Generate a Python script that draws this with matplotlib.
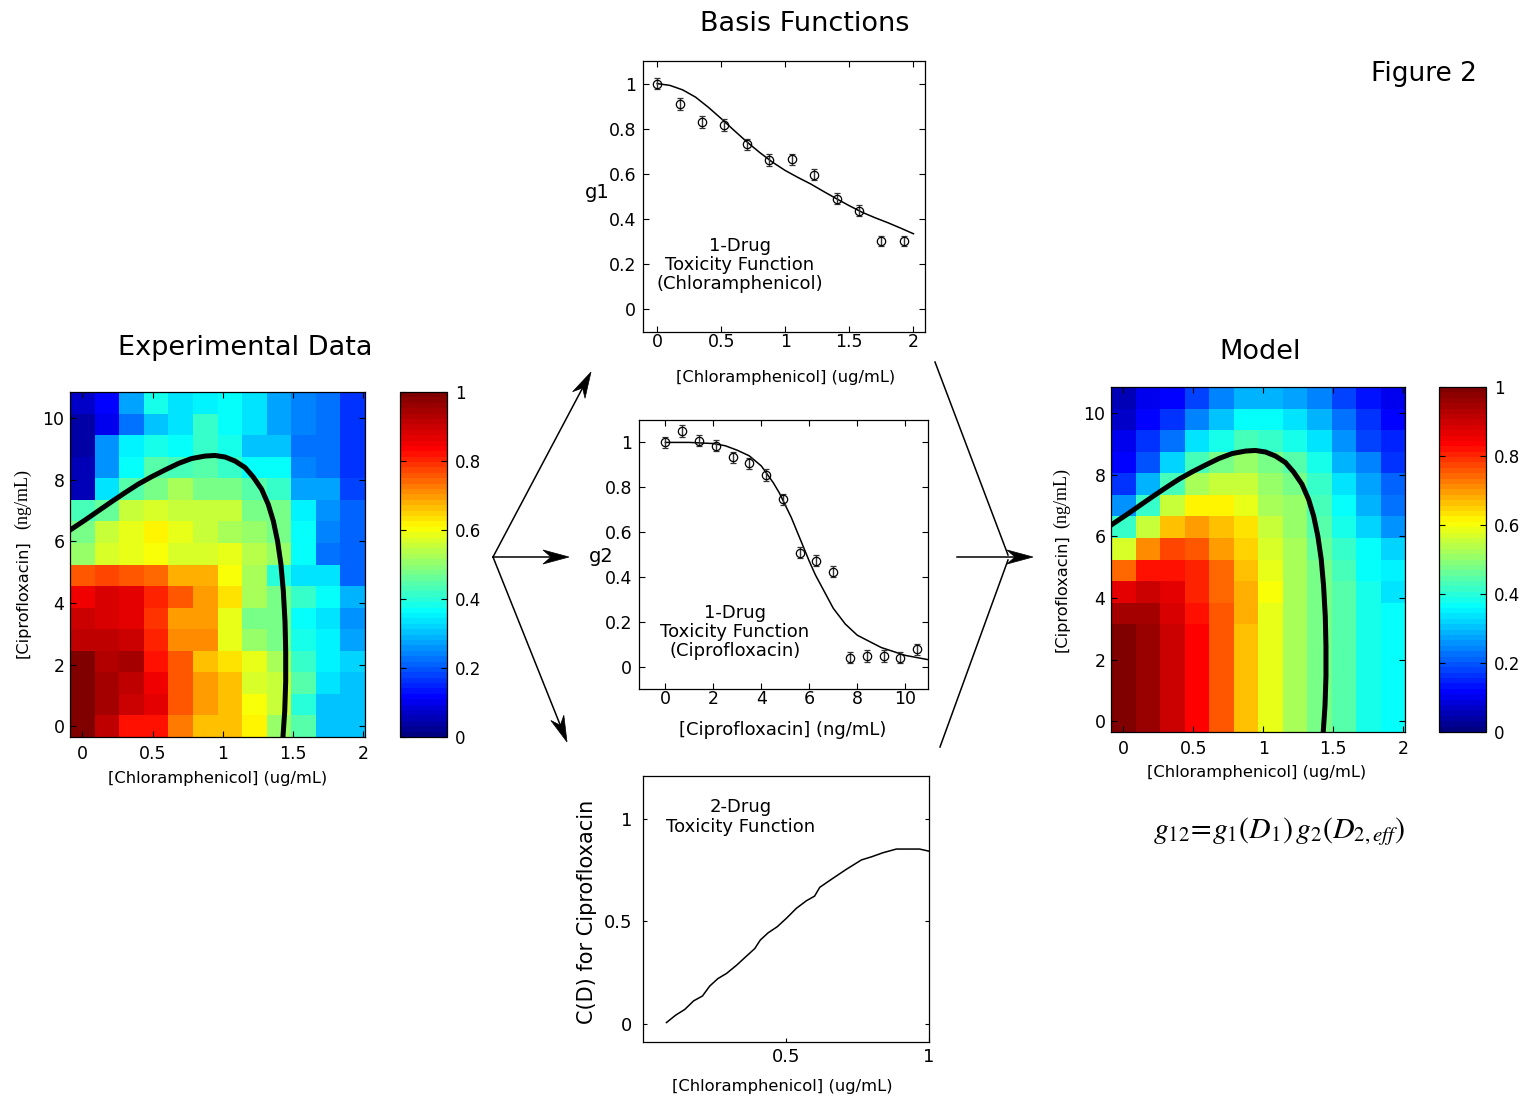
import matplotlib
matplotlib.use("Agg")
import matplotlib.pyplot as plt
import numpy as np
from matplotlib.colors import LinearSegmentedColormap
from matplotlib.patches import Polygon
from matplotlib.lines import Line2D

# grid of the heat maps
chloram = [0, 0.175, 0.35, 0.525, 0.7, 0.875, 1.05, 1.225, 1.4, 1.575, 1.75, 1.925]
cipro = [0, 0.7, 1.4, 2.1, 2.8, 3.5, 4.2, 4.9, 5.6, 6.3, 7.0, 7.7, 8.4, 9.1, 9.8, 10.5]

# measured growth, rows from cipro=0 upward
exp_grid = [
    [1.00, 0.91, 0.82, 0.82, 0.72, 0.66, 0.66, 0.61, 0.50, 0.44, 0.31, 0.31],
    [1.00, 0.94, 0.90, 0.86, 0.75, 0.69, 0.67, 0.60, 0.56, 0.40, 0.31, 0.31],
    [1.00, 0.94, 0.92, 0.85, 0.75, 0.69, 0.67, 0.57, 0.56, 0.45, 0.34, 0.31],
    [1.00, 0.93, 0.95, 0.82, 0.76, 0.67, 0.64, 0.58, 0.53, 0.41, 0.35, 0.32],
    [0.92, 0.91, 0.90, 0.81, 0.71, 0.71, 0.58, 0.51, 0.48, 0.39, 0.35, 0.28],
    [0.90, 0.89, 0.86, 0.79, 0.69, 0.69, 0.58, 0.48, 0.48, 0.37, 0.34, 0.25],
    [0.85, 0.89, 0.86, 0.81, 0.75, 0.70, 0.63, 0.52, 0.48, 0.41, 0.37, 0.29],
    [0.75, 0.78, 0.75, 0.74, 0.68, 0.68, 0.60, 0.52, 0.40, 0.34, 0.34, 0.21],
    [0.51, 0.57, 0.58, 0.60, 0.57, 0.57, 0.58, 0.54, 0.50, 0.37, 0.23, 0.21],
    [0.48, 0.55, 0.58, 0.62, 0.58, 0.55, 0.53, 0.50, 0.48, 0.37, 0.24, 0.21],
    [0.43, 0.46, 0.56, 0.57, 0.56, 0.55, 0.55, 0.48, 0.48, 0.35, 0.25, 0.21],
    [0.05, 0.34, 0.44, 0.48, 0.52, 0.47, 0.48, 0.45, 0.41, 0.28, 0.27, 0.18],
    [0.05, 0.25, 0.37, 0.44, 0.43, 0.44, 0.41, 0.37, 0.37, 0.24, 0.23, 0.16],
    [0.04, 0.25, 0.35, 0.39, 0.37, 0.42, 0.39, 0.31, 0.31, 0.23, 0.23, 0.17],
    [0.04, 0.10, 0.22, 0.30, 0.34, 0.42, 0.37, 0.34, 0.27, 0.24, 0.22, 0.17],
    [0.07, 0.12, 0.27, 0.38, 0.34, 0.35, 0.37, 0.33, 0.27, 0.24, 0.22, 0.16],
]

# model growth, rows from cipro=0 upward
model_grid = [
    [1.00, 0.96, 0.90, 0.83, 0.75, 0.67, 0.59, 0.53, 0.48, 0.44, 0.39, 0.36],
    [1.00, 0.96, 0.90, 0.83, 0.75, 0.67, 0.59, 0.53, 0.48, 0.44, 0.39, 0.36],
    [1.00, 0.96, 0.90, 0.83, 0.75, 0.67, 0.59, 0.53, 0.48, 0.44, 0.39, 0.36],
    [1.00, 0.96, 0.90, 0.83, 0.75, 0.67, 0.59, 0.53, 0.48, 0.44, 0.39, 0.36],
    [0.99, 0.96, 0.90, 0.83, 0.75, 0.67, 0.59, 0.53, 0.48, 0.44, 0.39, 0.36],
    [0.94, 0.94, 0.89, 0.82, 0.75, 0.68, 0.59, 0.53, 0.48, 0.44, 0.39, 0.36],
    [0.86, 0.90, 0.87, 0.81, 0.74, 0.68, 0.60, 0.53, 0.48, 0.44, 0.39, 0.34],
    [0.74, 0.82, 0.82, 0.80, 0.74, 0.66, 0.58, 0.52, 0.48, 0.43, 0.37, 0.35],
    [0.57, 0.71, 0.77, 0.75, 0.70, 0.65, 0.57, 0.52, 0.46, 0.41, 0.36, 0.32],
    [0.41, 0.56, 0.67, 0.70, 0.67, 0.63, 0.56, 0.51, 0.45, 0.39, 0.32, 0.25],
    [0.25, 0.41, 0.55, 0.62, 0.62, 0.58, 0.53, 0.50, 0.43, 0.36, 0.29, 0.23],
    [0.16, 0.29, 0.43, 0.53, 0.56, 0.55, 0.51, 0.48, 0.41, 0.34, 0.27, 0.21],
    [0.12, 0.20, 0.32, 0.43, 0.48, 0.50, 0.48, 0.44, 0.39, 0.29, 0.24, 0.17],
    [0.10, 0.16, 0.23, 0.34, 0.39, 0.43, 0.41, 0.39, 0.34, 0.25, 0.18, 0.15],
    [0.07, 0.12, 0.17, 0.24, 0.31, 0.37, 0.36, 0.34, 0.29, 0.23, 0.16, 0.12],
    [0.06, 0.10, 0.12, 0.18, 0.24, 0.29, 0.29, 0.28, 0.24, 0.18, 0.14, 0.10],
]

# 50% contour drawn on both heat maps
contour_x = [-0.095, -0.08, 0.019, 0.114, 0.209, 0.304, 0.399, 0.494, 0.589, 0.684,
             0.778, 0.873, 0.944, 1.016, 1.087, 1.158, 1.217, 1.277, 1.324, 1.36,
             1.39, 1.414, 1.431, 1.443, 1.448, 1.448, 1.441, 1.428]
contour_y = [6.34, 6.39, 6.69, 6.99, 7.29, 7.58, 7.86, 8.10, 8.32, 8.53,
             8.69, 8.77, 8.79, 8.74, 8.61, 8.40, 8.09, 7.69, 7.20, 6.66,
             6.01, 5.26, 4.39, 3.41, 2.44, 1.46, 0.49, -0.38]

# g1: chloramphenicol alone
g1_y = [1.0, 0.909, 0.83, 0.816, 0.731, 0.662, 0.665, 0.596, 0.49, 0.437, 0.304, 0.304]
g1_err = [0.025, 0.025, 0.025, 0.025, 0.025, 0.025, 0.025, 0.025, 0.025, 0.025, 0.022, 0.022]
g1_fit_x = [0, 0.1, 0.2, 0.3, 0.4, 0.5, 0.6, 0.7, 0.8, 0.9, 1.0,
            1.1, 1.2, 1.3, 1.4, 1.5, 1.6, 1.7, 1.8, 1.9, 2.0]
g1_fit_y = [1.0, 0.992, 0.972, 0.94, 0.895, 0.845, 0.793, 0.742, 0.695, 0.652, 0.615,
            0.584, 0.555, 0.522, 0.49, 0.459, 0.43, 0.406, 0.384, 0.36, 0.335]

# g2: ciprofloxacin alone
g2_y = [1.0, 1.051, 1.007, 0.985, 0.933, 0.907, 0.855, 0.746, 0.508, 0.472,
        0.424, 0.04, 0.047, 0.047, 0.04, 0.077]
g2_err = [0.025, 0.025, 0.025, 0.025, 0.025, 0.025, 0.025, 0.025, 0.025, 0.025,
          0.025, 0.025, 0.025, 0.025, 0.025, 0.025]
g2_fit_x = [0, 1, 2, 2.5, 3, 3.5, 4, 4.5, 4.75, 5, 5.25, 5.5, 5.75, 6, 6.25, 6.5,
            7, 7.5, 8, 9, 10, 11]
g2_fit_y = [1.0, 1.0, 0.995, 0.985, 0.965, 0.94, 0.895, 0.82, 0.775, 0.72, 0.665,
            0.60, 0.535, 0.47, 0.41, 0.36, 0.26, 0.19, 0.14, 0.085, 0.05, 0.03]

# C(D): two drug interaction
cd_x = [0.082, 0.114, 0.146, 0.177, 0.208, 0.233, 0.262, 0.292, 0.327, 0.362, 0.391,
        0.41, 0.437, 0.469, 0.501, 0.536, 0.571, 0.60, 0.618, 0.664, 0.711, 0.764,
        0.799, 0.839, 0.886, 0.967, 1.008]
cd_y = [0.005, 0.041, 0.069, 0.111, 0.135, 0.183, 0.22, 0.245, 0.285, 0.33, 0.367,
        0.408, 0.443, 0.473, 0.514, 0.563, 0.60, 0.623, 0.666, 0.71, 0.754, 0.80,
        0.815, 0.835, 0.853, 0.853, 0.84]

W, H = 1524, 1099
fig = plt.figure(figsize=(W / 100, H / 100), dpi=100)

jet = LinearSegmentedColormap.from_list(
    "mjet", [(0, (0, 0, 0.5)), (0.11, (0, 0, 1)), (0.36, (0, 1, 1)),
             (0.61, (1, 1, 0)), (0.84, (1, 0, 0)), (1.0, (0.5, 0, 0))], N=64)


def box(l, t, r, b):
    return fig.add_axes([l / W, 1 - b / H, (r - l) / W, (b - t) / H])


def put(px, py, s, **kw):
    fig.text(px / W, 1 - py / H, s, ha="center", va="center", **kw)


def style(ax, size=12):
    ax.tick_params(direction="in", top=True, right=True, length=4, width=0.8,
                   labelsize=size)
    for sp in ax.spines.values():
        sp.set_linewidth(0.9)


def arrow(x0, y0, x1, y1, head=True):
    p0 = np.array([x0, y0], float)
    p1 = np.array([x1, y1], float)
    u = (p1 - p0) / np.hypot(*(p1 - p0))
    n = np.array([-u[1], u[0]])
    end = p1 - u * 18 if head else p1
    fig.add_artist(Line2D([end[0] / W, x0 / W], [1 - end[1] / H, 1 - y0 / H],
                          transform=fig.transFigure, color="k", lw=1.1))
    if head:
        pts = [p1, p1 - u * 26 + n * 7, p1 - u * 18, p1 - u * 26 - n * 7]
        pts = [(p[0] / W, 1 - p[1] / H) for p in pts]
        fig.add_artist(Polygon(pts, closed=True, transform=fig.transFigure,
                               fc="k", ec="k", lw=0.5))


def heat(ax, cax, grid):
    mesh = ax.pcolormesh(chloram, cipro, np.array(grid), shading="nearest",
                         cmap=jet, vmin=0, vmax=1)
    xl, yl = ax.get_xlim(), ax.get_ylim()
    ax.plot(contour_x, contour_y, color="k", lw=3.6, solid_capstyle="butt",
            solid_joinstyle="round")
    ax.set_xlim(xl)
    ax.set_ylim(yl)
    ax.set_xticks([0, 0.5, 1, 1.5, 2], ["0", "0.5", "1", "1.5", "2"])
    ax.set_yticks([0, 2, 4, 6, 8, 10], ["0", "2", "4", "6", "8", "10"])
    style(ax, 12.5)
    ax.tick_params(axis="x", pad=6)
    ax.tick_params(axis="y", pad=4)
    cb = fig.colorbar(mesh, cax=cax)
    cb.set_ticks([0, 0.2, 0.4, 0.6, 0.8, 1])
    cb.set_ticklabels(["0", "0.2", "0.4", "0.6", "0.8", "1"])
    cax.tick_params(direction="in", left=True, right=True, length=4,
                    labelsize=12, pad=6)
    cb.outline.set_linewidth(0.9)


# experimental data
ax1 = box(70, 392, 365, 737)
cb1 = box(400, 392, 447, 737)
heat(ax1, cb1, exp_grid)
put(245, 348, "Experimental Data", fontsize=19.5)
put(218, 779, "[Chloramphenicol] (ug/mL)", fontsize=11.7)
put(23, 599, "[Ciprofloxacin]", fontsize=11.6, rotation=90)
put(23, 499, "(ng/mL)", fontsize=13, rotation=90, family="Liberation Serif")

# model
ax2 = box(1111, 387, 1405, 732)
cb2 = box(1439, 387, 1486, 732)
heat(ax2, cb2, model_grid)
put(1260, 352, "Model", fontsize=19.5)
put(1257, 773, "[Chloramphenicol] (ug/mL)", fontsize=11.7)
put(1062, 593, "[Ciprofloxacin]", fontsize=11.6, rotation=90)
put(1062, 498, "(ng/mL)", fontsize=13, rotation=90, family="Liberation Serif")
put(1279, 832, r"$g_{12}\!=\!g_1(D_1)\,g_2(D_{2,eff})$", fontsize=21.5,
    math_fontfamily="stix")

# g1
ax3 = box(643, 61, 925, 332)
ax3.plot(g1_fit_x, g1_fit_y, color="k", lw=1.1)
ax3.errorbar(chloram, g1_y, yerr=g1_err, fmt="o", mfc="none", mec="k", ms=6,
             mew=0.9, ecolor="0.2", elinewidth=1, capsize=2.5)
ax3.set_xlim(-0.11, 2.09)
ax3.set_ylim(-0.1, 1.1)
ax3.set_xticks([0, 0.5, 1, 1.5, 2], ["0", "0.5", "1", "1.5", "2"])
ax3.set_yticks([0, 0.2, 0.4, 0.6, 0.8, 1], ["0", "0.2", "0.4", "0.6", "0.8", "1"])
style(ax3, 12.5)
ax3.tick_params(axis="x", pad=1)
ax3.tick_params(axis="y", pad=5)
put(740, 265, "1-Drug\nToxicity Function\n(Chloramphenicol)", fontsize=13,
    linespacing=1.1)
put(597, 193, "g1", fontsize=14)
put(786, 377, "[Chloramphenicol] (ug/mL)", fontsize=11.7)

# g2
ax4 = box(639, 420, 928, 689)
ax4.plot(g2_fit_x, g2_fit_y, color="k", lw=1.1)
ax4.errorbar(cipro, g2_y, yerr=g2_err, fmt="o", mfc="none", mec="k", ms=6,
             mew=0.9, ecolor="0.2", elinewidth=1, capsize=2.5)
ax4.set_xlim(-1.1, 10.95)
ax4.set_ylim(-0.1, 1.1)
ax4.set_xticks([0, 2, 4, 6, 8, 10], ["0", "2", "4", "6", "8", "10"])
ax4.set_yticks([0, 0.2, 0.4, 0.6, 0.8, 1], ["0", "0.2", "0.4", "0.6", "0.8", "1"])
style(ax4, 12.5)
ax4.tick_params(axis="x", pad=1)
ax4.tick_params(axis="y", pad=5)
put(735, 632, "1-Drug\nToxicity Function\n(Ciprofloxacin)", fontsize=13,
    linespacing=1.1)
put(601, 556, "g2", fontsize=14)
put(783, 730, "[Ciprofloxacin] (ng/mL)", fontsize=13)

# C(D)
ax5 = box(643, 776, 929, 1042)
ax5.plot(cd_x, cd_y, color="k", lw=1.1)
ax5.set_xlim(0, 1)
ax5.set_ylim(-0.09, 1.21)
ax5.set_xticks([0.5, 1], ["0.5", "1"])
ax5.set_yticks([0, 0.5, 1], ["0", "0.5", "1"])
style(ax5, 13)
ax5.tick_params(top=False, length=3)
ax5.tick_params(axis="x", pad=4)
ax5.tick_params(axis="y", pad=8)
put(741, 817, "2-Drug\nToxicity Function", fontsize=13, linespacing=1.1)
put(587, 912, "C(D) for Ciprofloxacin", fontsize=15, rotation=90)
put(782, 1086, "[Chloramphenicol] (ug/mL)", fontsize=11.8)

# titles
put(805, 24, "Basis Functions", fontsize=19.5)
put(1424, 74, "Figure 2", fontsize=19)

# arrows
arrow(493, 557, 591, 372)
arrow(493, 557, 569, 557)
arrow(493, 557, 567, 742)
arrow(935, 362, 1008, 555, head=False)
arrow(940, 747, 1008, 560, head=False)
arrow(957, 557, 1033, 557)

fig.savefig("out.png", dpi=100)
